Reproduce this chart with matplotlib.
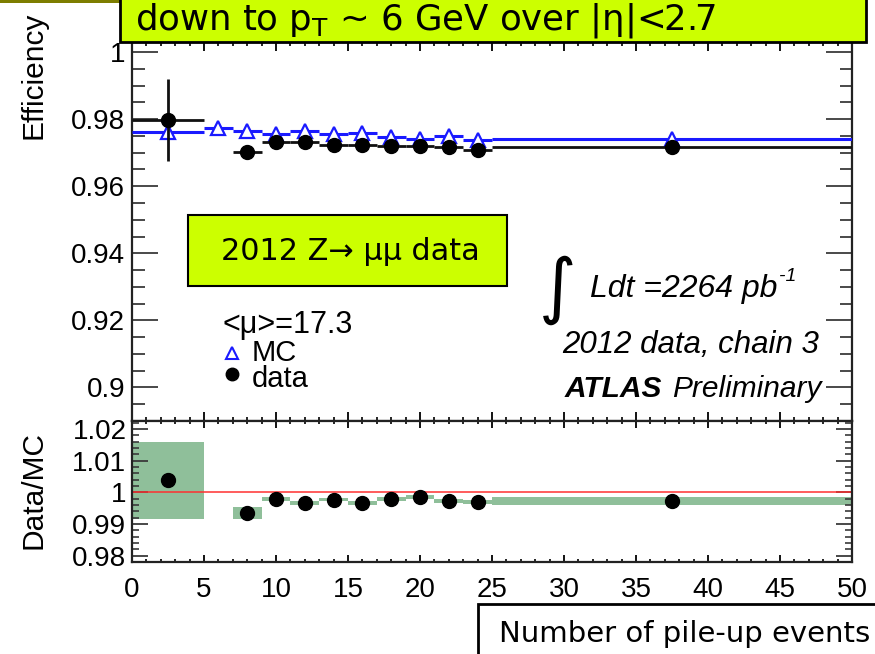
import matplotlib
matplotlib.use("Agg")
import matplotlib.pyplot as plt
from matplotlib.patches import Rectangle
from matplotlib.ticker import MultipleLocator, FuncFormatter

W, H = 875, 654
SANS = ["Liberation Sans", "DejaVu Sans"]

# MC efficiency per pile-up bin
mc_lo = [0, 5, 7, 9, 11, 13, 15, 17, 19, 21, 23, 25]
mc_hi = [5, 7, 9, 11, 13, 15, 17, 19, 21, 23, 25, 50]
mc_x = [2.5, 6, 8, 10, 12, 14, 16, 18, 20, 22, 24, 37.5]
mc_eff = [0.9761, 0.9774, 0.9766, 0.9756, 0.9764, 0.9756,
          0.9759, 0.9746, 0.9741, 0.9749, 0.9739, 0.9741]

# data efficiency per pile-up bin
data_lo = [0, 7, 9, 11, 13, 15, 17, 19, 21, 23, 25]
data_hi = [5, 9, 11, 13, 15, 17, 19, 21, 23, 25, 50]
data_x = [2.5, 8, 10, 12, 14, 16, 18, 20, 22, 24, 37.5]
data_eff = [0.9798, 0.9701, 0.9731, 0.9731, 0.9724, 0.9723,
            0.9721, 0.9721, 0.9716, 0.9709, 0.9716]
data_err = [0.0122, 0.0006, 0.0004, 0.0004, 0.0004, 0.0004,
            0.0004, 0.0004, 0.0004, 0.0004, 0.0004]

# data / MC scale factors
ratio = [1.0038, 0.9935, 0.9980, 0.9965, 0.9977, 0.9967,
         0.9980, 0.9985, 0.9973, 0.9970, 0.9973]
ratio_err = [0.0122, 0.0018, 0.0006, 0.0006, 0.0006, 0.0006,
             0.0006, 0.0006, 0.0006, 0.0006, 0.0012]

x_ticks = [0, 5, 10, 15, 20, 25, 30, 35, 40, 45, 50]


def px_rect(left, top, right, bottom):
    return [left / W, 1 - bottom / H, (right - left) / W, (bottom - top) / H]


fig = plt.figure(figsize=(W / 100, H / 100), dpi=100)
fig.patch.set_facecolor("white")

ax1 = fig.add_axes(px_rect(132, 42, 852, 421))
ax2 = fig.add_axes(px_rect(132, 421, 852, 562))

tick_col = "#3a3a3a"
fmt = FuncFormatter(lambda v, p: "%g" % round(v, 4))

# ---- efficiency panel ----
mc_xerr = [[x - lo for x, lo in zip(mc_x, mc_lo)], [hi - x for x, hi in zip(mc_x, mc_hi)]]
d_xerr = [[x - lo for x, lo in zip(data_x, data_lo)], [hi - x for x, hi in zip(data_x, data_hi)]]

ax1.errorbar(mc_x, mc_eff, xerr=mc_xerr, fmt="^", color="#1a1aff", mfc="white",
             mec="#1a1aff", mew=1.6, ms=10, elinewidth=2.2, capsize=0, zorder=3)
ax1.errorbar(data_x, data_eff, xerr=d_xerr, yerr=data_err, fmt="o", color="black",
             ms=10, elinewidth=2.0, ecolor="#111111", capsize=0, zorder=4)

ax1.set_xlim(0, 50)
ax1.set_ylim(0.89, 1.003)
ax1.yaxis.set_major_locator(MultipleLocator(0.02))
ax1.yaxis.set_minor_locator(MultipleLocator(0.005))
ax1.yaxis.set_major_formatter(fmt)
ax1.xaxis.set_major_locator(MultipleLocator(5))
ax1.xaxis.set_minor_locator(MultipleLocator(1))
ax1.tick_params(axis="y", which="major", direction="in", length=19, width=1.3,
                color=tick_col, left=True, right=True, labelsize=20, pad=5)
ax1.tick_params(axis="y", which="minor", direction="in", length=9, width=1.3,
                color=tick_col, left=True, right=True)
ax1.tick_params(axis="x", which="major", direction="in", length=6.5, width=1.3,
                color="black", top=True, bottom=True, labelbottom=False)
ax1.tick_params(axis="x", which="minor", direction="in", length=3, width=1.2,
                color="black", top=True, bottom=True)
for lab in ax1.get_yticklabels():
    lab.set_family(SANS)

# ---- ratio panel ----
ax2.axhline(1.0, color="#ff3030", lw=1.1, zorder=2)
ax2.bar(data_lo, [2 * e for e in ratio_err], bottom=[r - e for r, e in zip(ratio, ratio_err)],
        width=[hi - lo for lo, hi in zip(data_lo, data_hi)], align="edge",
        color="#8fbf9a", edgecolor="none", zorder=1)
ax2.plot(data_x, ratio, "o", color="black", ms=10, zorder=4)

ax2.set_xlim(0, 50)
ax2.set_ylim(0.978, 1.0225)
ax2.yaxis.set_major_locator(MultipleLocator(0.01))
ax2.yaxis.set_minor_locator(MultipleLocator(0.002))
ax2.yaxis.set_major_formatter(fmt)
ax2.set_xticks(x_ticks)
ax2.xaxis.set_minor_locator(MultipleLocator(1))
ax2.tick_params(axis="y", which="major", direction="in", length=11.5, width=1.3,
                color=tick_col, left=True, right=True, labelsize=20, pad=4)
ax2.tick_params(axis="y", which="minor", direction="in", length=5, width=1.2,
                color=tick_col, left=True, right=True)
ax2.tick_params(axis="x", which="major", direction="in", length=5, width=1.3,
                color="black", top=True, bottom=True, labelsize=20, pad=11)
ax2.tick_params(axis="x", which="minor", direction="in", length=2.5, width=1.2,
                color="black", top=True, bottom=True)
for lab in ax2.get_yticklabels() + ax2.get_xticklabels():
    lab.set_family(SANS)

for ax in (ax1, ax2):
    for s in ax.spines.values():
        s.set_linewidth(1.6)
        s.set_color("#222222")

# ---- text layer in pixel coordinates ----
ov = fig.add_axes([0, 0, 1, 1], zorder=10)
ov.set_xlim(0, W)
ov.set_ylim(H, 0)
ov.axis("off")
ov.patch.set_alpha(0)

lime = "#ccff00"
ov.add_patch(Rectangle((0, -2), 121, 5, facecolor="#7d7d00", edgecolor="none"))
ov.add_patch(Rectangle((120, -5), 746, 47, facecolor=lime, edgecolor="black", lw=2))
ov.text(135, 29, r"down to p$_\mathrm{T}$ ~ 6 GeV over |η|<2.7", fontsize=25.6,
        family="DejaVu Sans", va="baseline", ha="left")

ov.text(33, 12, "Efficiency", rotation=90, ha="center", va="top", fontsize=21.5, family=SANS)
ov.text(33, 490, "Data/MC", rotation=90, ha="center", va="center", fontsize=21.5, family=SANS)

ov.add_patch(Rectangle((188, 215), 319, 71, facecolor=lime, edgecolor="black", lw=1.5))
ov.text(350, 251, "2012 Z→ μμ data", fontsize=21.8, family="DejaVu Sans",
        ha="center", va="center")

ov.text(222, 333, "<μ>=17.3", fontsize=22, family=SANS, va="baseline")
ov.plot([232], [353], "^", ms=9, mfc="white", mec="#1a1aff", mew=1.5)
ov.text(252, 361, "MC", fontsize=21, family=SANS, va="baseline")
ov.plot([232], [374], "o", ms=9, color="black")
ov.text(252, 387, "data", fontsize=21, family=SANS, va="baseline")

ov.text(558, 290, "∫", fontsize=52, family="DejaVu Sans", ha="center", va="center")
lum = ov.text(590, 297, "Ldt =2264 pb", fontsize=23, family=SANS, style="italic",
              va="baseline")
ov.annotate("-1", xy=(1, 1), xycoords=lum, xytext=(1, -2), textcoords="offset points",
            fontsize=14, family=SANS, style="italic", va="center", ha="left")
ov.text(562, 353, "2012 data, chain 3", fontsize=22.5, family=SANS, style="italic",
        va="baseline")
atl = ov.text(565, 397, "ATLAS", fontsize=21.5, family=SANS, style="italic",
              weight="bold", va="baseline")
ov.annotate("Preliminary", xy=(1, 0), xycoords=atl, xytext=(7, 0),
            textcoords="offset points", fontsize=21.5, family=SANS, style="italic",
            va="bottom", ha="left")

ov.add_patch(Rectangle((478, 604), 420, 60, facecolor="white", edgecolor="black", lw=2))
ov.text(499, 642, "Number of pile-up events", fontsize=21, family="DejaVu Sans",
        va="baseline", ha="left")

fig.savefig("out.png", dpi=100)
